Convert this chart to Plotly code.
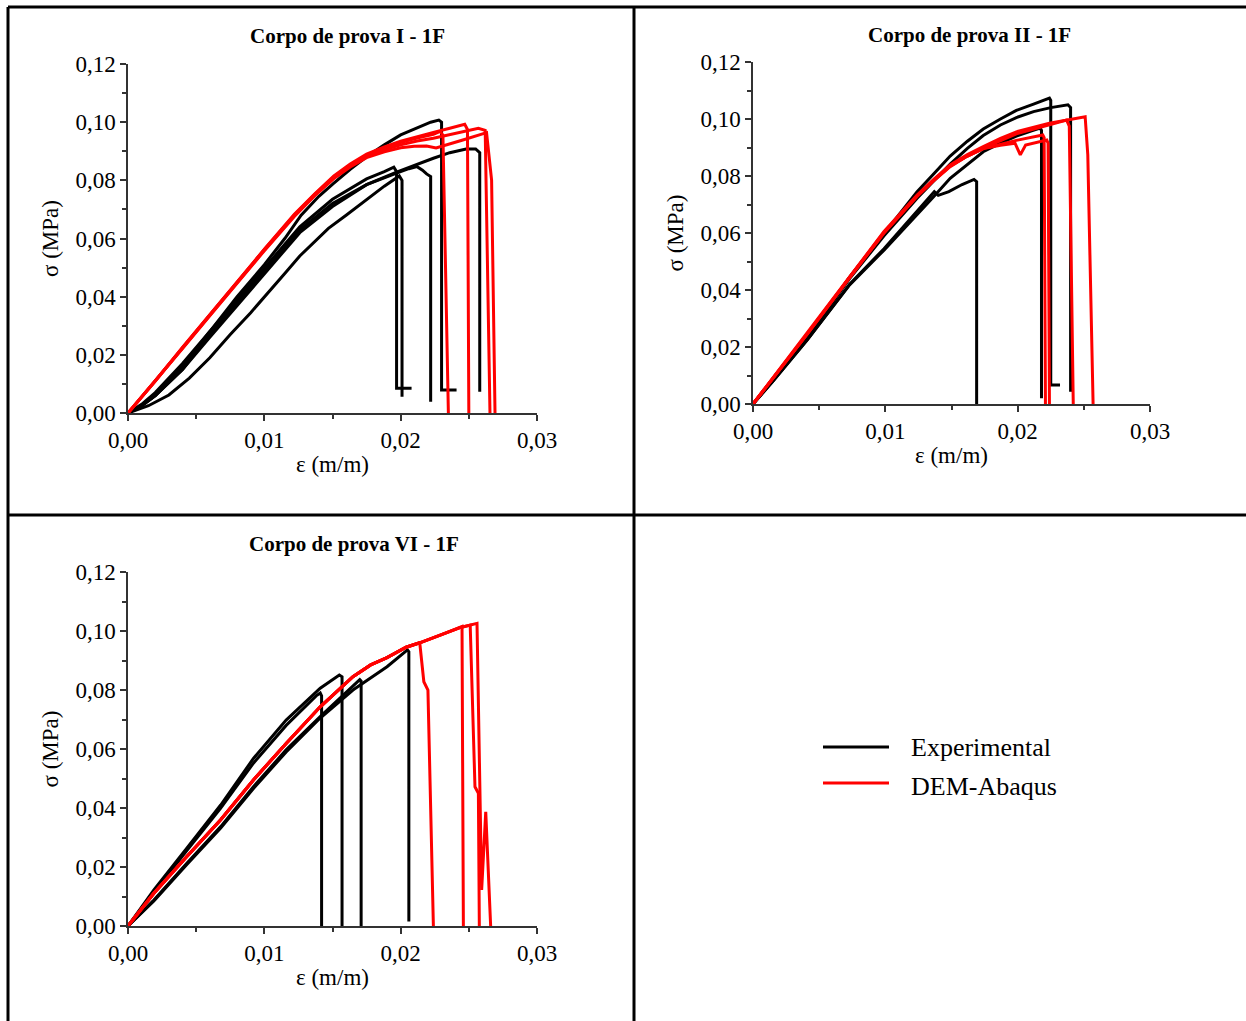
import plotly.graph_objects as go

W, H = 1246, 1021

# ---------------- data (strain m/m, stress MPa) ----------------
# Panel 1: Corpo de prova I - 1F  (black = experimental, red = DEM-Abaqus)
p1_exp_eps = [
    [0, 0.001, 0.002, 0.003, 0.004, 0.006, 0.008, 0.010, 0.0115, 0.0127, 0.014, 0.0151, 0.0163, 0.0175, 0.0188, 0.0200, 0.0213, 0.0222, 0.0228, 0.0230, 0.0230, 0.0241],
    [0, 0.001, 0.002, 0.004, 0.006, 0.008, 0.010, 0.0126, 0.015, 0.0175, 0.0197, 0.021, 0.0224, 0.0236, 0.0248, 0.0255, 0.0258, 0.0258],
    [0, 0.001, 0.002, 0.004, 0.006, 0.008, 0.010, 0.0126, 0.015, 0.0175, 0.0188, 0.0195, 0.0197, 0.0197, 0.0208],
    [0, 0.001, 0.002, 0.004, 0.006, 0.008, 0.010, 0.0126, 0.015, 0.0175, 0.0197, 0.0206, 0.0212, 0.0216, 0.0219, 0.0222, 0.0222],
    [0, 0.0015, 0.003, 0.0045, 0.006, 0.0075, 0.009, 0.0103, 0.0115, 0.0126, 0.0137, 0.0147, 0.016, 0.0175, 0.0188, 0.0199, 0.0201, 0.0201],
]
p1_exp_sig = [
    [0, 0.003, 0.007, 0.012, 0.017, 0.028, 0.040, 0.051, 0.060, 0.068, 0.0745, 0.079, 0.0838, 0.0881, 0.0922, 0.0956, 0.0982, 0.1000, 0.1007, 0.1000, 0.0079, 0.0079],
    [0, 0.0025, 0.006, 0.015, 0.026, 0.037, 0.048, 0.062, 0.071, 0.0785, 0.0828, 0.0852, 0.0876, 0.0895, 0.0908, 0.0908, 0.0895, 0.0073],
    [0, 0.0025, 0.006, 0.016, 0.028, 0.039, 0.050, 0.064, 0.0735, 0.0805, 0.083, 0.0845, 0.083, 0.0085, 0.0085],
    [0, 0.0025, 0.006, 0.015, 0.027, 0.038, 0.049, 0.063, 0.072, 0.0785, 0.0825, 0.0840, 0.0847, 0.0835, 0.0822, 0.0813, 0.0039],
    [0, 0.0025, 0.0062, 0.012, 0.019, 0.027, 0.0345, 0.0417, 0.048, 0.054, 0.059, 0.0635, 0.068, 0.0735, 0.078, 0.0815, 0.080, 0.0056],
]
p1_num_eps = [
    [0, 0.002, 0.004, 0.006, 0.008, 0.010, 0.0122, 0.0137, 0.0151, 0.0163, 0.0175, 0.0188, 0.0200, 0.0212, 0.0224, 0.0229, 0.0231, 0.0235],
    [0, 0.002, 0.004, 0.006, 0.008, 0.010, 0.0122, 0.0137, 0.0151, 0.0163, 0.0175, 0.0188, 0.0200, 0.0212, 0.0224, 0.0236, 0.0247, 0.0249, 0.0250],
    [0, 0.002, 0.004, 0.006, 0.008, 0.010, 0.0122, 0.0137, 0.0151, 0.0163, 0.0175, 0.0188, 0.0200, 0.0212, 0.0224, 0.0240, 0.0257, 0.0262, 0.02655],
    [0, 0.002, 0.004, 0.006, 0.008, 0.010, 0.0122, 0.0137, 0.0151, 0.0163, 0.0175, 0.0188, 0.0200, 0.0210, 0.0219, 0.0226, 0.0245, 0.0263, 0.02667, 0.02692],
]
p1_num_sig = [
    [0, 0.011, 0.0225, 0.0338, 0.0450, 0.0562, 0.0681, 0.0752, 0.0813, 0.0853, 0.0887, 0.0910, 0.0930, 0.0945, 0.0958, 0.0968, 0.0955, 0.0],
    [0, 0.011, 0.0225, 0.0338, 0.0452, 0.0563, 0.0683, 0.0754, 0.0815, 0.0856, 0.0890, 0.0915, 0.0935, 0.0951, 0.0965, 0.0979, 0.0993, 0.0975, 0.0],
    [0, 0.011, 0.0223, 0.0336, 0.0448, 0.0560, 0.0678, 0.0750, 0.0810, 0.0850, 0.0882, 0.0905, 0.0922, 0.0935, 0.0945, 0.0962, 0.0979, 0.0972, 0.0],
    [0, 0.011, 0.0222, 0.0334, 0.0446, 0.0558, 0.0676, 0.0747, 0.0806, 0.0846, 0.0878, 0.0898, 0.0912, 0.0917, 0.0918, 0.0911, 0.0938, 0.0964, 0.0801, 0.0],
]

# Panel 2: Corpo de prova II - 1F
p2_exp_eps = [
    [0, 0.0015, 0.0041, 0.0073, 0.0099, 0.0124, 0.0137, 0.0149, 0.0162, 0.0174, 0.0187, 0.0199, 0.0212, 0.0224, 0.0225, 0.0225, 0.0232],
    [0, 0.0015, 0.0041, 0.0073, 0.0099, 0.0124, 0.0136, 0.0149, 0.0162, 0.0174, 0.0187, 0.0199, 0.0212, 0.0225, 0.0238, 0.0240, 0.0240],
    [0, 0.0015, 0.0041, 0.0073, 0.0099, 0.0124, 0.0137, 0.0149, 0.0162, 0.0174, 0.0187, 0.0199, 0.0210, 0.0217, 0.0218, 0.0218],
    [0, 0.0015, 0.0041, 0.0073, 0.0099, 0.0124, 0.0137, 0.0140, 0.0148, 0.0158, 0.0167, 0.0169, 0.0169],
]
p2_exp_sig = [
    [0, 0.0085, 0.0235, 0.0445, 0.0600, 0.0745, 0.0810, 0.0870, 0.0922, 0.0965, 0.1000, 0.1030, 0.1052, 0.1073, 0.1065, 0.0067, 0.0067],
    [0, 0.0085, 0.0233, 0.0440, 0.0590, 0.0722, 0.0780, 0.0842, 0.0897, 0.0942, 0.0979, 0.1005, 0.1026, 0.1040, 0.1050, 0.1040, 0.0043],
    [0, 0.0080, 0.0225, 0.0418, 0.0540, 0.0663, 0.0730, 0.0792, 0.0842, 0.0885, 0.0915, 0.0940, 0.0958, 0.0968, 0.0960, 0.0020],
    [0, 0.0080, 0.0225, 0.0420, 0.0545, 0.0675, 0.0745, 0.0732, 0.0745, 0.0770, 0.0788, 0.0780, 0.0],
]
p2_num_eps = [
    [0, 0.002, 0.0041, 0.0073, 0.0099, 0.0124, 0.0137, 0.0149, 0.0162, 0.0174, 0.0187, 0.0199, 0.0224, 0.0251, 0.0253, 0.0257],
    [0, 0.002, 0.0041, 0.0073, 0.0099, 0.0124, 0.0137, 0.0149, 0.0162, 0.0174, 0.0187, 0.0199, 0.0224, 0.0237, 0.0239, 0.0242],
    [0, 0.002, 0.0041, 0.0073, 0.0099, 0.0124, 0.0137, 0.0149, 0.0162, 0.0174, 0.0187, 0.0199, 0.0219, 0.0220, 0.0221],
    [0, 0.002, 0.0041, 0.0073, 0.0099, 0.0124, 0.0137, 0.0149, 0.0162, 0.0174, 0.0187, 0.0198, 0.0202, 0.0206, 0.0222, 0.0223, 0.0224],
]
p2_num_sig = [
    [0, 0.0122, 0.0247, 0.0445, 0.0605, 0.0733, 0.0790, 0.0839, 0.0875, 0.0903, 0.0932, 0.0955, 0.0985, 0.1008, 0.0874, 0.0],
    [0, 0.0121, 0.0245, 0.0443, 0.0600, 0.0728, 0.0785, 0.0833, 0.0870, 0.0898, 0.0925, 0.0948, 0.0980, 0.0996, 0.0975, 0.0],
    [0, 0.0121, 0.0246, 0.0444, 0.0602, 0.0730, 0.0787, 0.0835, 0.0870, 0.0896, 0.0912, 0.0925, 0.0944, 0.0935, 0.0],
    [0, 0.0121, 0.0246, 0.0444, 0.0602, 0.0730, 0.0787, 0.0835, 0.0870, 0.0896, 0.0908, 0.0915, 0.0874, 0.0909, 0.0926, 0.0915, 0.0],
]

# Panel 3: Corpo de prova VI - 1F
p3_exp_eps = [
    [0, 0.0019, 0.0043, 0.0068, 0.0092, 0.0116, 0.0141, 0.0155, 0.0157, 0.0157],
    [0, 0.0019, 0.0043, 0.0068, 0.0092, 0.0116, 0.0138, 0.0141, 0.0142, 0.0142],
    [0, 0.0019, 0.0043, 0.0068, 0.0092, 0.0116, 0.0141, 0.0160, 0.0170, 0.0171, 0.0171],
    [0, 0.0019, 0.0043, 0.0068, 0.0092, 0.0116, 0.0141, 0.0165, 0.0190, 0.0205, 0.0206, 0.0206],
]
p3_exp_sig = [
    [0, 0.0122, 0.0263, 0.0410, 0.0568, 0.0698, 0.0806, 0.0851, 0.0845, 0.0],
    [0, 0.0115, 0.0255, 0.0400, 0.0552, 0.0680, 0.0780, 0.0790, 0.0780, 0.0],
    [0, 0.0088, 0.0212, 0.0337, 0.0472, 0.0597, 0.0710, 0.0790, 0.0835, 0.0830, 0.0],
    [0, 0.0085, 0.0208, 0.0332, 0.0466, 0.0590, 0.0705, 0.0800, 0.0879, 0.0936, 0.0930, 0.0015],
]
p3_num_eps = [
    [0, 0.0019, 0.0043, 0.0068, 0.0092, 0.0116, 0.0141, 0.0165, 0.0178, 0.0190, 0.0204, 0.0214, 0.0217, 0.0220, 0.0224],
    [0, 0.0019, 0.0043, 0.0068, 0.0092, 0.0116, 0.0141, 0.0165, 0.0178, 0.0190, 0.0204, 0.0214, 0.0229, 0.0245, 0.0246],
    [0, 0.0019, 0.0043, 0.0068, 0.0092, 0.0116, 0.0141, 0.0165, 0.0178, 0.0190, 0.0204, 0.0214, 0.0229, 0.0244, 0.0251, 0.02545, 0.0257, 0.02577],
    [0, 0.0019, 0.0043, 0.0068, 0.0092, 0.0116, 0.0141, 0.0165, 0.0178, 0.0190, 0.0204, 0.0214, 0.0229, 0.0244, 0.0256, 0.02594, 0.02624, 0.0266],
]
p3_num_sig = [
    [0, 0.0111, 0.0235, 0.0360, 0.0495, 0.0619, 0.0743, 0.0845, 0.0885, 0.0910, 0.0945, 0.0960, 0.0828, 0.0800, 0.0],
    [0, 0.0111, 0.0235, 0.0360, 0.0495, 0.0619, 0.0743, 0.0845, 0.0885, 0.0910, 0.0945, 0.0960, 0.0986, 0.1015, 0.0],
    [0, 0.0111, 0.0235, 0.0360, 0.0495, 0.0619, 0.0743, 0.0845, 0.0885, 0.0910, 0.0945, 0.0960, 0.0986, 0.1012, 0.1020, 0.0472, 0.0450, 0.0],
    [0, 0.0111, 0.0235, 0.0360, 0.0495, 0.0619, 0.0743, 0.0845, 0.0885, 0.0910, 0.0945, 0.0960, 0.0986, 0.1012, 0.1026, 0.0122, 0.0387, 0.0],
]

panel_titles = ["Corpo de prova I - 1F", "Corpo de prova II - 1F", "Corpo de prova VI - 1F"]
series_names = ["Experimental", "DEM-Abaqus"]
series_colors = ["#000000", "#ff0000"]
x_ticks = [0, 0.01, 0.02, 0.03]
y_ticks = [0, 0.02, 0.04, 0.06, 0.08, 0.10, 0.12]

# ---------------- figure ----------------
def px(x):
    return x / W


def py(y):
    return 1 - y / H


FONT = "Liberation Serif"
TICK_SIZE = 23
fig = go.Figure()

panels = [
    (p1_exp_eps, p1_exp_sig, p1_num_eps, p1_num_sig, "x", "y"),
    (p2_exp_eps, p2_exp_sig, p2_num_eps, p2_num_sig, "x2", "y2"),
    (p3_exp_eps, p3_exp_sig, p3_num_eps, p3_num_sig, "x3", "y3"),
]
for pe, ps, ne, ns, xa, ya in panels:
    for ex, sy in zip(pe, ps):
        fig.add_trace(go.Scatter(x=ex, y=sy, mode="lines", name=series_names[0],
                                 line=dict(color=series_colors[0], width=3),
                                 xaxis=xa, yaxis=ya, showlegend=False))
    for ex, sy in zip(ne, ns):
        fig.add_trace(go.Scatter(x=ex, y=sy, mode="lines", name=series_names[1],
                                 line=dict(color=series_colors[1], width=3),
                                 xaxis=xa, yaxis=ya, showlegend=False))

axcol = "#333333"


def xax(domain, anchor):
    return dict(domain=domain, anchor=anchor, range=[0, 0.03], tickvals=x_ticks,
                tickformat=".2f", showline=True, linecolor=axcol, linewidth=1.5,
                ticks="outside", ticklen=6, tickwidth=1.5, tickcolor=axcol,
                minor=dict(dtick=0.005, tick0=0, ticks="outside", ticklen=4,
                           tickwidth=1.5, tickcolor=axcol),
                showgrid=False, zeroline=False, automargin=False,
                tickfont=dict(family=FONT, size=TICK_SIZE, color="#000"),
                title=dict(text="ε (m/m)", font=dict(family=FONT, size=23, color="#000"),
                           standoff=4))


def yax(domain, anchor):
    return dict(domain=domain, anchor=anchor, range=[0, 0.12], tickvals=y_ticks,
                tickformat=".2f", showline=True, linecolor=axcol, linewidth=1.5,
                ticks="outside", ticklen=6, tickwidth=1.5, tickcolor=axcol,
                minor=dict(dtick=0.01, tick0=0, ticks="outside", ticklen=4,
                           tickwidth=1.5, tickcolor=axcol),
                showgrid=False, zeroline=False, automargin=False,
                tickfont=dict(family=FONT, size=TICK_SIZE, color="#000"),
                title=dict(text="σ (MPa)", font=dict(family=FONT, size=23, color="#000"),
                           standoff=10))


fig.update_layout(
    width=W, height=H, margin=dict(l=0, r=0, t=0, b=0, pad=0, autoexpand=False),
    paper_bgcolor="white", plot_bgcolor="white",
    separators=",.",
    showlegend=False,
    font=dict(family=FONT, color="#000"),
    xaxis=xax([px(128), px(537)], "y"),
    yaxis=yax([py(413), py(64)], "x"),
    xaxis2=xax([px(753), px(1150)], "y2"),
    yaxis2=yax([py(404), py(62)], "x2"),
    xaxis3=xax([px(128), px(537)], "y3"),
    yaxis3=yax([py(926), py(572)], "x3"),
)

# panel titles
for t, (cx, cy) in zip(panel_titles, [(347, 36), (969, 35), (354, 544)]):
    fig.add_annotation(text="<b>" + t + "</b>", x=px(cx), y=py(cy), xref="paper", yref="paper",
                       showarrow=False, xanchor="center", yanchor="middle",
                       font=dict(family=FONT, size=21, color="#000"))

# table borders
border = dict(color="#000", width=3)
for x0, y0, x1, y1 in [(8, 7, 1246, 7), (8, 7, 8, 1021), (634, 7, 634, 1021), (8, 515, 1246, 515)]:
    fig.add_shape(type="line", xref="paper", yref="paper",
                  x0=px(x0), y0=py(y0), x1=px(x1), y1=py(y1), line=border, layer="above")

# legend (drawn)
for name, col, ly, ty in zip(series_names, series_colors, [747, 783], [747, 786]):
    fig.add_shape(type="line", xref="paper", yref="paper",
                  x0=px(823), x1=px(889), y0=py(ly), y1=py(ly),
                  line=dict(color=col, width=3))
    fig.add_annotation(text=name, x=px(909), y=py(ty), xref="paper", yref="paper",
                       showarrow=False, xanchor="left", yanchor="middle",
                       font=dict(family=FONT, size=26, color="#000"))

fig.write_html("out.html", post_script="document.body.style.margin='0';")
